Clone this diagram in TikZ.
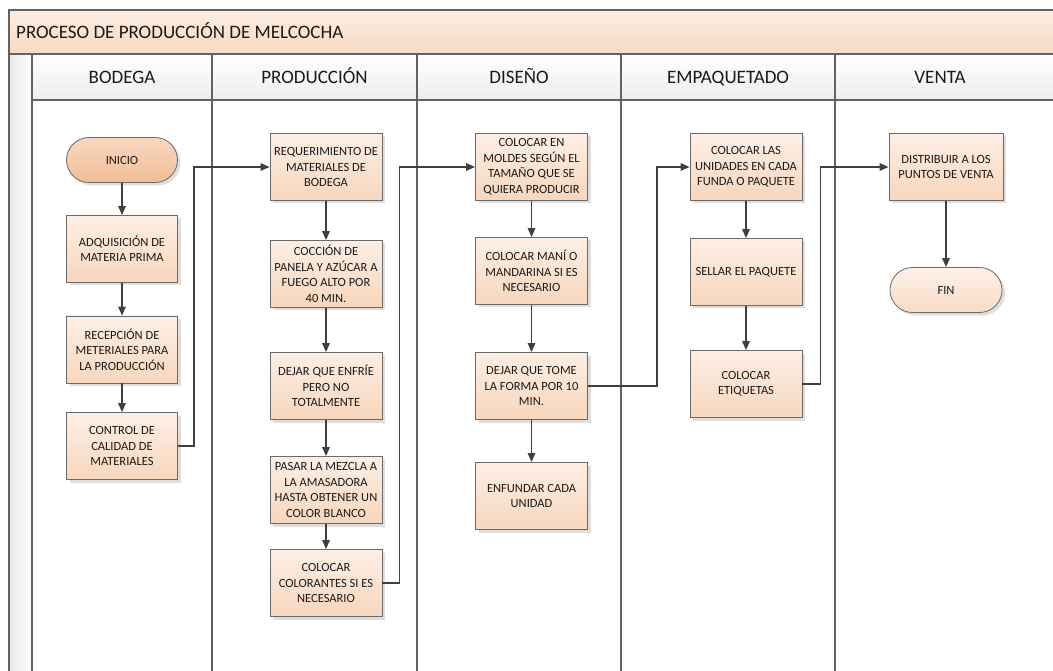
\documentclass[tikz,border=0pt]{standalone}
\usepackage{fontspec}
\setmainfont{Carlito}
\usetikzlibrary{arrows.meta,shadows}

\definecolor{boxtop}{HTML}{FDEFE5}
\definecolor{boxbot}{HTML}{F7D6BC}
\definecolor{termtop}{HTML}{F9D8C0}
\definecolor{termbot}{HTML}{F2BD97}
\definecolor{fintop}{HTML}{FDF0E7}
\definecolor{finbot}{HTML}{F8DCC6}
\definecolor{titletop}{HTML}{FCEDE2}
\definecolor{titlebot}{HTML}{F8DAC2}
\definecolor{boxline}{HTML}{6A6A6A}
\definecolor{frameline}{HTML}{626262}
\definecolor{connline}{HTML}{404040}
\definecolor{txt}{HTML}{1A1A1A}

\tikzset{
  procbox/.style={rectangle, draw=boxline, line width=0.8pt,
    top color=boxtop, bottom color=boxbot,
    minimum width=112, minimum height=67, inner sep=1pt,
    align=center, text=txt, font=\fontsize{12.5}{15.5}\selectfont,
    general shadow={fill=black!13, shadow xshift=3pt, shadow yshift=-3pt}},
  termbox/.style={procbox, rounded corners=22.5pt, minimum height=45,
    top color=termtop, bottom color=termbot},
  endbox/.style={termbox, top color=fintop, bottom color=finbot},
  conn/.style={draw=connline, line width=1.4pt,
    -{Triangle[length=9pt,width=7.5pt]}},
  frame/.style={draw=frameline, line width=1.8pt},
  lanehead/.style={text=txt, font=\fontsize{19}{22}\selectfont,
    text height=13pt, text depth=4pt},
}

\begin{document}
\begin{tikzpicture}[x=1pt,y=-1pt]
\useasboundingbox (0,0) rectangle (1053,671);
\clip (0,0) rectangle (1053,671);

% pool title band
\fill[top color=titletop, bottom color=titlebot] (9,10) rectangle (1070,54);
% left strip of the pool
\fill[left color=black!9, right color=white] (9,54) rectangle (32,680);
% lane headers
\foreach \xa/\xb in {32/212, 212/417, 417/621, 621/835, 835/1070}
  \fill[top color=white, bottom color=black!7] (\xa,54) rectangle (\xb,100);

% pool and lane outlines
\draw[frame] (9,680) -- (9,10) -- (1070,10);
\draw[frame] (9,54) -- (1070,54);
\draw[frame] (32,100) -- (1070,100);
\foreach \x in {32,212,417,621,835}
  \draw[frame] (\x,54) -- (\x,680);

% titles
\node[lanehead, anchor=west, inner sep=0pt] (pooltitle) at (16,34) {PROCESO DE PRODUCCIÓN DE MELCOCHA};
\node[lanehead] (hbod) at (122,79) {BODEGA};
\node[lanehead] (hpro) at (314.5,79) {PRODUCCIÓN};
\node[lanehead] (hdis) at (519,79) {DISEÑO};
\node[lanehead] (hemp) at (728,79) {EMPAQUETADO};
\node[lanehead] (hven) at (940,79) {VENTA};

% BODEGA
\node[termbox, minimum width=111] (ini) at (122,160) {INICIO};
\node[procbox, minimum width=111] (adq) at (122,249) {ADQUISICIÓN DE\\MATERIA PRIMA};
\node[procbox, minimum width=111] (rec) at (122,349.5) {RECEPCIÓN DE\\METERIALES PARA\\LA PRODUCCIÓN};
\node[procbox, minimum width=111] (ctl) at (122,446) {CONTROL DE\\CALIDAD DE\\MATERIALES};

% PRODUCCION
\node[procbox] (req) at (326,167) {REQUERIMIENTO DE\\MATERIALES DE\\BODEGA};
\node[procbox] (coc) at (326,274) {COCCIÓN DE\\PANELA Y AZÚCAR A\\FUEGO ALTO POR\\40 MIN.};
\node[procbox] (dej) at (326,386) {DEJAR QUE ENFRÍE\\PERO NO\\TOTALMENTE};
\node[procbox] (pas) at (326,490) {PASAR LA MEZCLA A\\LA AMASADORA\\HASTA OBTENER UN\\COLOR BLANCO};
\node[procbox] (col) at (326,583) {COLOCAR\\COLORANTES SI ES\\NECESARIO};

% DISENO
\node[procbox] (mol) at (531.5,167) {COLOCAR EN\\MOLDES SEGÚN EL\\TAMAÑO QUE SE\\QUIERA PRODUCIR};
\node[procbox] (man) at (531.5,271) {COLOCAR MANÍ O\\MANDARINA SI ES\\NECESARIO};
\node[procbox] (tom) at (531.5,386) {DEJAR QUE TOME\\LA FORMA POR 10\\MIN.};
\node[procbox] (enf) at (531.5,496) {ENFUNDAR CADA\\UNIDAD};

% EMPAQUETADO
\node[procbox] (uni) at (746,167) {COLOCAR LAS\\UNIDADES EN CADA\\FUNDA O PAQUETE};
\node[procbox] (sel) at (746,272) {SELLAR EL PAQUETE};
\node[procbox] (eti) at (746,384) {COLOCAR\\ETIQUETAS};

% VENTA
\node[procbox, minimum width=114] (dis) at (946,167) {DISTRIBUIR A LOS\\PUNTOS DE VENTA};
\node[endbox] (fin) at (946,290) {FIN};

% flow within lanes
\draw[conn] (ini) -- (adq);
\draw[conn] (adq) -- (rec);
\draw[conn] (rec) -- (ctl);
\draw[conn] (req) -- (coc);
\draw[conn] (coc) -- (dej);
\draw[conn] (dej) -- (pas);
\draw[conn] (pas) -- (col);
\draw[conn] (mol) -- (man);
\draw[conn] (man) -- (tom);
\draw[conn] (tom) -- (enf);
\draw[conn] (uni) -- (sel);
\draw[conn] (sel) -- (eti);
\draw[conn] (dis) -- (fin);

% flow between lanes
\draw[conn] (ctl.east) -- ++(16,0) |- (req.west);
\draw[conn] (col.east) -- ++(17,0) |- (mol.west);
\draw[conn] (tom.east) -- ++(69,0) |- (uni.west);
\draw[conn] (eti.east) -- ++(18,0) |- (dis.west);
\end{tikzpicture}
\end{document}
